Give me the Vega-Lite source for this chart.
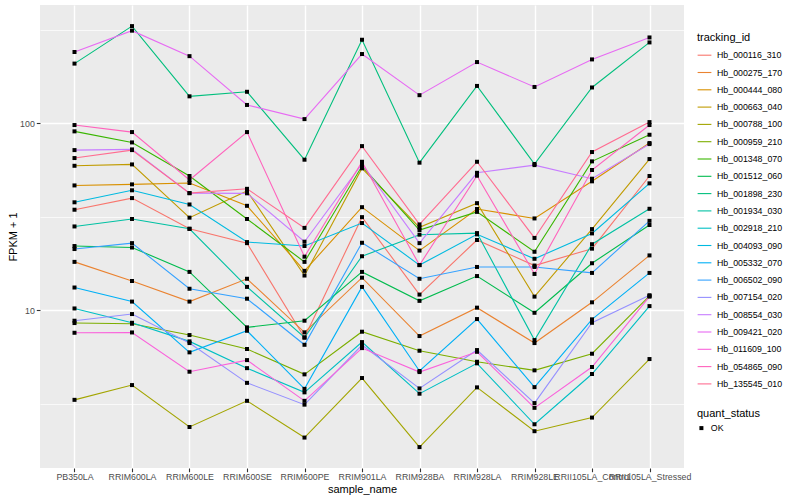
{
"$schema": "https://vega.github.io/schema/vega-lite/v6.json",
"width": 644, "height": 463,
"autosize": {"type": "none"},
"padding": {"left": 40, "top": 5, "right": 116, "bottom": 32},
"background": "white",
"config": {
 "view": {"fill": "#EBEBEB", "stroke": null},
 "font": "Liberation Sans",
 "axis": {"gridColor": "white", "gridWidth": 1.4, "domain": false, "tickColor": "#333333", "tickSize": 3.7, "tickWidth": 1.1, "labelColor": "#4D4D4D", "labelFontSize": 8.8, "titleFontSize": 11, "titleColor": "black", "titleFontWeight": "normal", "labelFont": "Liberation Sans", "titleFont": "Liberation Sans"},
 "legend": {"titleFontSize": 11, "titleFontWeight": "normal", "titleColor": "black", "labelFontSize": 8.8, "labelColor": "black", "labelFont": "Liberation Sans", "titleFont": "Liberation Sans", "padding": 0, "rowPadding": 4.3, "titlePadding": 4.7, "labelOffset": 5}
},
"data": {"values": [
{"tracking_id":"Hb_000116_310","sample_name":"PB350LA","FPKM":34.4,"quant_status":"OK"},
{"tracking_id":"Hb_000116_310","sample_name":"RRIM600LA","FPKM":39.7,"quant_status":"OK"},
{"tracking_id":"Hb_000116_310","sample_name":"RRIM600LE","FPKM":27.2,"quant_status":"OK"},
{"tracking_id":"Hb_000116_310","sample_name":"RRIM600SE","FPKM":22.8,"quant_status":"OK"},
{"tracking_id":"Hb_000116_310","sample_name":"RRIM600PE","FPKM":7.13,"quant_status":"OK"},
{"tracking_id":"Hb_000116_310","sample_name":"RRIM901LA","FPKM":31.4,"quant_status":"OK"},
{"tracking_id":"Hb_000116_310","sample_name":"RRIM928BA","FPKM":12.1,"quant_status":"OK"},
{"tracking_id":"Hb_000116_310","sample_name":"RRIM928LA","FPKM":23.7,"quant_status":"OK"},
{"tracking_id":"Hb_000116_310","sample_name":"RRIM928LE","FPKM":17.3,"quant_status":"OK"},
{"tracking_id":"Hb_000116_310","sample_name":"RRII105LA_Control","FPKM":21.3,"quant_status":"OK"},
{"tracking_id":"Hb_000116_310","sample_name":"RRII105LA_Stressed","FPKM":52.1,"quant_status":"OK"},
{"tracking_id":"Hb_000275_170","sample_name":"PB350LA","FPKM":18.1,"quant_status":"OK"},
{"tracking_id":"Hb_000275_170","sample_name":"RRIM600LA","FPKM":14.3,"quant_status":"OK"},
{"tracking_id":"Hb_000275_170","sample_name":"RRIM600LE","FPKM":11.1,"quant_status":"OK"},
{"tracking_id":"Hb_000275_170","sample_name":"RRIM600SE","FPKM":14.7,"quant_status":"OK"},
{"tracking_id":"Hb_000275_170","sample_name":"RRIM600PE","FPKM":7.6,"quant_status":"OK"},
{"tracking_id":"Hb_000275_170","sample_name":"RRIM901LA","FPKM":14.9,"quant_status":"OK"},
{"tracking_id":"Hb_000275_170","sample_name":"RRIM928BA","FPKM":7.26,"quant_status":"OK"},
{"tracking_id":"Hb_000275_170","sample_name":"RRIM928LA","FPKM":10.3,"quant_status":"OK"},
{"tracking_id":"Hb_000275_170","sample_name":"RRIM928LE","FPKM":6.66,"quant_status":"OK"},
{"tracking_id":"Hb_000275_170","sample_name":"RRII105LA_Control","FPKM":11.0,"quant_status":"OK"},
{"tracking_id":"Hb_000275_170","sample_name":"RRII105LA_Stressed","FPKM":19.6,"quant_status":"OK"},
{"tracking_id":"Hb_000444_080","sample_name":"PB350LA","FPKM":46.4,"quant_status":"OK"},
{"tracking_id":"Hb_000444_080","sample_name":"RRIM600LA","FPKM":47.0,"quant_status":"OK"},
{"tracking_id":"Hb_000444_080","sample_name":"RRIM600LE","FPKM":47.8,"quant_status":"OK"},
{"tracking_id":"Hb_000444_080","sample_name":"RRIM600SE","FPKM":36.1,"quant_status":"OK"},
{"tracking_id":"Hb_000444_080","sample_name":"RRIM600PE","FPKM":16.2,"quant_status":"OK"},
{"tracking_id":"Hb_000444_080","sample_name":"RRIM901LA","FPKM":35.5,"quant_status":"OK"},
{"tracking_id":"Hb_000444_080","sample_name":"RRIM928BA","FPKM":20.8,"quant_status":"OK"},
{"tracking_id":"Hb_000444_080","sample_name":"RRIM928LA","FPKM":34.7,"quant_status":"OK"},
{"tracking_id":"Hb_000444_080","sample_name":"RRIM928LE","FPKM":30.9,"quant_status":"OK"},
{"tracking_id":"Hb_000444_080","sample_name":"RRII105LA_Control","FPKM":48.8,"quant_status":"OK"},
{"tracking_id":"Hb_000444_080","sample_name":"RRII105LA_Stressed","FPKM":78.2,"quant_status":"OK"},
{"tracking_id":"Hb_000663_040","sample_name":"PB350LA","FPKM":59.1,"quant_status":"OK"},
{"tracking_id":"Hb_000663_040","sample_name":"RRIM600LA","FPKM":60.1,"quant_status":"OK"},
{"tracking_id":"Hb_000663_040","sample_name":"RRIM600LE","FPKM":31.2,"quant_status":"OK"},
{"tracking_id":"Hb_000663_040","sample_name":"RRIM600SE","FPKM":43.3,"quant_status":"OK"},
{"tracking_id":"Hb_000663_040","sample_name":"RRIM600PE","FPKM":15.3,"quant_status":"OK"},
{"tracking_id":"Hb_000663_040","sample_name":"RRIM901LA","FPKM":57.3,"quant_status":"OK"},
{"tracking_id":"Hb_000663_040","sample_name":"RRIM928BA","FPKM":27.7,"quant_status":"OK"},
{"tracking_id":"Hb_000663_040","sample_name":"RRIM928LA","FPKM":37.3,"quant_status":"OK"},
{"tracking_id":"Hb_000663_040","sample_name":"RRIM928LE","FPKM":11.8,"quant_status":"OK"},
{"tracking_id":"Hb_000663_040","sample_name":"RRII105LA_Control","FPKM":27.1,"quant_status":"OK"},
{"tracking_id":"Hb_000663_040","sample_name":"RRII105LA_Stressed","FPKM":64.2,"quant_status":"OK"},
{"tracking_id":"Hb_000788_100","sample_name":"PB350LA","FPKM":3.31,"quant_status":"OK"},
{"tracking_id":"Hb_000788_100","sample_name":"RRIM600LA","FPKM":3.97,"quant_status":"OK"},
{"tracking_id":"Hb_000788_100","sample_name":"RRIM600LE","FPKM":2.37,"quant_status":"OK"},
{"tracking_id":"Hb_000788_100","sample_name":"RRIM600SE","FPKM":3.27,"quant_status":"OK"},
{"tracking_id":"Hb_000788_100","sample_name":"RRIM600PE","FPKM":2.08,"quant_status":"OK"},
{"tracking_id":"Hb_000788_100","sample_name":"RRIM901LA","FPKM":4.33,"quant_status":"OK"},
{"tracking_id":"Hb_000788_100","sample_name":"RRIM928BA","FPKM":1.85,"quant_status":"OK"},
{"tracking_id":"Hb_000788_100","sample_name":"RRIM928LA","FPKM":3.86,"quant_status":"OK"},
{"tracking_id":"Hb_000788_100","sample_name":"RRIM928LE","FPKM":2.25,"quant_status":"OK"},
{"tracking_id":"Hb_000788_100","sample_name":"RRII105LA_Control","FPKM":2.66,"quant_status":"OK"},
{"tracking_id":"Hb_000788_100","sample_name":"RRII105LA_Stressed","FPKM":5.47,"quant_status":"OK"},
{"tracking_id":"Hb_000959_210","sample_name":"PB350LA","FPKM":8.52,"quant_status":"OK"},
{"tracking_id":"Hb_000959_210","sample_name":"RRIM600LA","FPKM":8.45,"quant_status":"OK"},
{"tracking_id":"Hb_000959_210","sample_name":"RRIM600LE","FPKM":7.35,"quant_status":"OK"},
{"tracking_id":"Hb_000959_210","sample_name":"RRIM600SE","FPKM":6.19,"quant_status":"OK"},
{"tracking_id":"Hb_000959_210","sample_name":"RRIM600PE","FPKM":4.53,"quant_status":"OK"},
{"tracking_id":"Hb_000959_210","sample_name":"RRIM901LA","FPKM":7.66,"quant_status":"OK"},
{"tracking_id":"Hb_000959_210","sample_name":"RRIM928BA","FPKM":6.06,"quant_status":"OK"},
{"tracking_id":"Hb_000959_210","sample_name":"RRIM928LA","FPKM":5.29,"quant_status":"OK"},
{"tracking_id":"Hb_000959_210","sample_name":"RRIM928LE","FPKM":4.76,"quant_status":"OK"},
{"tracking_id":"Hb_000959_210","sample_name":"RRII105LA_Control","FPKM":5.84,"quant_status":"OK"},
{"tracking_id":"Hb_000959_210","sample_name":"RRII105LA_Stressed","FPKM":11.9,"quant_status":"OK"},
{"tracking_id":"Hb_001348_070","sample_name":"PB350LA","FPKM":90.3,"quant_status":"OK"},
{"tracking_id":"Hb_001348_070","sample_name":"RRIM600LA","FPKM":78.8,"quant_status":"OK"},
{"tracking_id":"Hb_001348_070","sample_name":"RRIM600LE","FPKM":52.1,"quant_status":"OK"},
{"tracking_id":"Hb_001348_070","sample_name":"RRIM600SE","FPKM":30.7,"quant_status":"OK"},
{"tracking_id":"Hb_001348_070","sample_name":"RRIM600PE","FPKM":18.1,"quant_status":"OK"},
{"tracking_id":"Hb_001348_070","sample_name":"RRIM901LA","FPKM":58.9,"quant_status":"OK"},
{"tracking_id":"Hb_001348_070","sample_name":"RRIM928BA","FPKM":26.8,"quant_status":"OK"},
{"tracking_id":"Hb_001348_070","sample_name":"RRIM928LA","FPKM":33.5,"quant_status":"OK"},
{"tracking_id":"Hb_001348_070","sample_name":"RRIM928LE","FPKM":20.5,"quant_status":"OK"},
{"tracking_id":"Hb_001348_070","sample_name":"RRII105LA_Control","FPKM":62.4,"quant_status":"OK"},
{"tracking_id":"Hb_001348_070","sample_name":"RRII105LA_Stressed","FPKM":86.6,"quant_status":"OK"},
{"tracking_id":"Hb_001512_060","sample_name":"PB350LA","FPKM":22.0,"quant_status":"OK"},
{"tracking_id":"Hb_001512_060","sample_name":"RRIM600LA","FPKM":21.6,"quant_status":"OK"},
{"tracking_id":"Hb_001512_060","sample_name":"RRIM600LE","FPKM":16.0,"quant_status":"OK"},
{"tracking_id":"Hb_001512_060","sample_name":"RRIM600SE","FPKM":8.08,"quant_status":"OK"},
{"tracking_id":"Hb_001512_060","sample_name":"RRIM600PE","FPKM":8.77,"quant_status":"OK"},
{"tracking_id":"Hb_001512_060","sample_name":"RRIM901LA","FPKM":16.0,"quant_status":"OK"},
{"tracking_id":"Hb_001512_060","sample_name":"RRIM928BA","FPKM":11.2,"quant_status":"OK"},
{"tracking_id":"Hb_001512_060","sample_name":"RRIM928LA","FPKM":15.2,"quant_status":"OK"},
{"tracking_id":"Hb_001512_060","sample_name":"RRIM928LE","FPKM":9.67,"quant_status":"OK"},
{"tracking_id":"Hb_001512_060","sample_name":"RRII105LA_Control","FPKM":17.8,"quant_status":"OK"},
{"tracking_id":"Hb_001512_060","sample_name":"RRII105LA_Stressed","FPKM":28.5,"quant_status":"OK"},
{"tracking_id":"Hb_001898_230","sample_name":"PB350LA","FPKM":208,"quant_status":"OK"},
{"tracking_id":"Hb_001898_230","sample_name":"RRIM600LA","FPKM":330,"quant_status":"OK"},
{"tracking_id":"Hb_001898_230","sample_name":"RRIM600LE","FPKM":139,"quant_status":"OK"},
{"tracking_id":"Hb_001898_230","sample_name":"RRIM600SE","FPKM":147,"quant_status":"OK"},
{"tracking_id":"Hb_001898_230","sample_name":"RRIM600PE","FPKM":63.7,"quant_status":"OK"},
{"tracking_id":"Hb_001898_230","sample_name":"RRIM901LA","FPKM":279,"quant_status":"OK"},
{"tracking_id":"Hb_001898_230","sample_name":"RRIM928BA","FPKM":61.4,"quant_status":"OK"},
{"tracking_id":"Hb_001898_230","sample_name":"RRIM928LA","FPKM":158,"quant_status":"OK"},
{"tracking_id":"Hb_001898_230","sample_name":"RRIM928LE","FPKM":60.4,"quant_status":"OK"},
{"tracking_id":"Hb_001898_230","sample_name":"RRII105LA_Control","FPKM":155,"quant_status":"OK"},
{"tracking_id":"Hb_001898_230","sample_name":"RRII105LA_Stressed","FPKM":270,"quant_status":"OK"},
{"tracking_id":"Hb_001934_030","sample_name":"PB350LA","FPKM":28.0,"quant_status":"OK"},
{"tracking_id":"Hb_001934_030","sample_name":"RRIM600LA","FPKM":30.7,"quant_status":"OK"},
{"tracking_id":"Hb_001934_030","sample_name":"RRIM600LE","FPKM":27.2,"quant_status":"OK"},
{"tracking_id":"Hb_001934_030","sample_name":"RRIM600SE","FPKM":13.3,"quant_status":"OK"},
{"tracking_id":"Hb_001934_030","sample_name":"RRIM600PE","FPKM":7.13,"quant_status":"OK"},
{"tracking_id":"Hb_001934_030","sample_name":"RRIM901LA","FPKM":19.4,"quant_status":"OK"},
{"tracking_id":"Hb_001934_030","sample_name":"RRIM928BA","FPKM":25.3,"quant_status":"OK"},
{"tracking_id":"Hb_001934_030","sample_name":"RRIM928LA","FPKM":25.8,"quant_status":"OK"},
{"tracking_id":"Hb_001934_030","sample_name":"RRIM928LE","FPKM":6.91,"quant_status":"OK"},
{"tracking_id":"Hb_001934_030","sample_name":"RRII105LA_Control","FPKM":22.5,"quant_status":"OK"},
{"tracking_id":"Hb_001934_030","sample_name":"RRII105LA_Stressed","FPKM":34.8,"quant_status":"OK"},
{"tracking_id":"Hb_002918_210","sample_name":"PB350LA","FPKM":10.2,"quant_status":"OK"},
{"tracking_id":"Hb_002918_210","sample_name":"RRIM600LA","FPKM":8.55,"quant_status":"OK"},
{"tracking_id":"Hb_002918_210","sample_name":"RRIM600LE","FPKM":6.8,"quant_status":"OK"},
{"tracking_id":"Hb_002918_210","sample_name":"RRIM600SE","FPKM":4.89,"quant_status":"OK"},
{"tracking_id":"Hb_002918_210","sample_name":"RRIM600PE","FPKM":3.63,"quant_status":"OK"},
{"tracking_id":"Hb_002918_210","sample_name":"RRIM901LA","FPKM":6.74,"quant_status":"OK"},
{"tracking_id":"Hb_002918_210","sample_name":"RRIM928BA","FPKM":3.57,"quant_status":"OK"},
{"tracking_id":"Hb_002918_210","sample_name":"RRIM928LA","FPKM":5.19,"quant_status":"OK"},
{"tracking_id":"Hb_002918_210","sample_name":"RRIM928LE","FPKM":2.45,"quant_status":"OK"},
{"tracking_id":"Hb_002918_210","sample_name":"RRII105LA_Control","FPKM":4.55,"quant_status":"OK"},
{"tracking_id":"Hb_002918_210","sample_name":"RRII105LA_Stressed","FPKM":10.5,"quant_status":"OK"},
{"tracking_id":"Hb_004093_090","sample_name":"PB350LA","FPKM":37.7,"quant_status":"OK"},
{"tracking_id":"Hb_004093_090","sample_name":"RRIM600LA","FPKM":43.7,"quant_status":"OK"},
{"tracking_id":"Hb_004093_090","sample_name":"RRIM600LE","FPKM":36.7,"quant_status":"OK"},
{"tracking_id":"Hb_004093_090","sample_name":"RRIM600SE","FPKM":23.1,"quant_status":"OK"},
{"tracking_id":"Hb_004093_090","sample_name":"RRIM600PE","FPKM":22.0,"quant_status":"OK"},
{"tracking_id":"Hb_004093_090","sample_name":"RRIM901LA","FPKM":29.2,"quant_status":"OK"},
{"tracking_id":"Hb_004093_090","sample_name":"RRIM928BA","FPKM":17.4,"quant_status":"OK"},
{"tracking_id":"Hb_004093_090","sample_name":"RRIM928LA","FPKM":25.4,"quant_status":"OK"},
{"tracking_id":"Hb_004093_090","sample_name":"RRIM928LE","FPKM":18.8,"quant_status":"OK"},
{"tracking_id":"Hb_004093_090","sample_name":"RRII105LA_Control","FPKM":25.7,"quant_status":"OK"},
{"tracking_id":"Hb_004093_090","sample_name":"RRII105LA_Stressed","FPKM":47.6,"quant_status":"OK"},
{"tracking_id":"Hb_005332_070","sample_name":"PB350LA","FPKM":13.2,"quant_status":"OK"},
{"tracking_id":"Hb_005332_070","sample_name":"RRIM600LA","FPKM":11.1,"quant_status":"OK"},
{"tracking_id":"Hb_005332_070","sample_name":"RRIM600LE","FPKM":5.94,"quant_status":"OK"},
{"tracking_id":"Hb_005332_070","sample_name":"RRIM600SE","FPKM":7.75,"quant_status":"OK"},
{"tracking_id":"Hb_005332_070","sample_name":"RRIM600PE","FPKM":3.79,"quant_status":"OK"},
{"tracking_id":"Hb_005332_070","sample_name":"RRIM901LA","FPKM":13.3,"quant_status":"OK"},
{"tracking_id":"Hb_005332_070","sample_name":"RRIM928BA","FPKM":4.72,"quant_status":"OK"},
{"tracking_id":"Hb_005332_070","sample_name":"RRIM928LA","FPKM":8.95,"quant_status":"OK"},
{"tracking_id":"Hb_005332_070","sample_name":"RRIM928LE","FPKM":3.87,"quant_status":"OK"},
{"tracking_id":"Hb_005332_070","sample_name":"RRII105LA_Control","FPKM":8.92,"quant_status":"OK"},
{"tracking_id":"Hb_005332_070","sample_name":"RRII105LA_Stressed","FPKM":15.8,"quant_status":"OK"},
{"tracking_id":"Hb_006502_090","sample_name":"PB350LA","FPKM":21.2,"quant_status":"OK"},
{"tracking_id":"Hb_006502_090","sample_name":"RRIM600LA","FPKM":22.8,"quant_status":"OK"},
{"tracking_id":"Hb_006502_090","sample_name":"RRIM600LE","FPKM":13.0,"quant_status":"OK"},
{"tracking_id":"Hb_006502_090","sample_name":"RRIM600SE","FPKM":11.5,"quant_status":"OK"},
{"tracking_id":"Hb_006502_090","sample_name":"RRIM600PE","FPKM":6.52,"quant_status":"OK"},
{"tracking_id":"Hb_006502_090","sample_name":"RRIM901LA","FPKM":22.9,"quant_status":"OK"},
{"tracking_id":"Hb_006502_090","sample_name":"RRIM928BA","FPKM":14.7,"quant_status":"OK"},
{"tracking_id":"Hb_006502_090","sample_name":"RRIM928LA","FPKM":17.0,"quant_status":"OK"},
{"tracking_id":"Hb_006502_090","sample_name":"RRIM928LE","FPKM":17.0,"quant_status":"OK"},
{"tracking_id":"Hb_006502_090","sample_name":"RRII105LA_Control","FPKM":15.8,"quant_status":"OK"},
{"tracking_id":"Hb_006502_090","sample_name":"RRII105LA_Stressed","FPKM":30.0,"quant_status":"OK"},
{"tracking_id":"Hb_007154_020","sample_name":"PB350LA","FPKM":8.77,"quant_status":"OK"},
{"tracking_id":"Hb_007154_020","sample_name":"RRIM600LA","FPKM":9.52,"quant_status":"OK"},
{"tracking_id":"Hb_007154_020","sample_name":"RRIM600LE","FPKM":6.66,"quant_status":"OK"},
{"tracking_id":"Hb_007154_020","sample_name":"RRIM600SE","FPKM":4.08,"quant_status":"OK"},
{"tracking_id":"Hb_007154_020","sample_name":"RRIM600PE","FPKM":3.12,"quant_status":"OK"},
{"tracking_id":"Hb_007154_020","sample_name":"RRIM901LA","FPKM":6.5,"quant_status":"OK"},
{"tracking_id":"Hb_007154_020","sample_name":"RRIM928BA","FPKM":3.81,"quant_status":"OK"},
{"tracking_id":"Hb_007154_020","sample_name":"RRIM928LA","FPKM":6.11,"quant_status":"OK"},
{"tracking_id":"Hb_007154_020","sample_name":"RRIM928LE","FPKM":3.18,"quant_status":"OK"},
{"tracking_id":"Hb_007154_020","sample_name":"RRII105LA_Control","FPKM":8.55,"quant_status":"OK"},
{"tracking_id":"Hb_007154_020","sample_name":"RRII105LA_Stressed","FPKM":12.0,"quant_status":"OK"},
{"tracking_id":"Hb_008554_030","sample_name":"PB350LA","FPKM":71.7,"quant_status":"OK"},
{"tracking_id":"Hb_008554_030","sample_name":"RRIM600LA","FPKM":72.3,"quant_status":"OK"},
{"tracking_id":"Hb_008554_030","sample_name":"RRIM600LE","FPKM":42.2,"quant_status":"OK"},
{"tracking_id":"Hb_008554_030","sample_name":"RRIM600SE","FPKM":42.1,"quant_status":"OK"},
{"tracking_id":"Hb_008554_030","sample_name":"RRIM600PE","FPKM":23.2,"quant_status":"OK"},
{"tracking_id":"Hb_008554_030","sample_name":"RRIM901LA","FPKM":60.4,"quant_status":"OK"},
{"tracking_id":"Hb_008554_030","sample_name":"RRIM928BA","FPKM":22.8,"quant_status":"OK"},
{"tracking_id":"Hb_008554_030","sample_name":"RRIM928LA","FPKM":54.2,"quant_status":"OK"},
{"tracking_id":"Hb_008554_030","sample_name":"RRIM928LE","FPKM":59.6,"quant_status":"OK"},
{"tracking_id":"Hb_008554_030","sample_name":"RRII105LA_Control","FPKM":50.4,"quant_status":"OK"},
{"tracking_id":"Hb_008554_030","sample_name":"RRII105LA_Stressed","FPKM":77.2,"quant_status":"OK"},
{"tracking_id":"Hb_009421_020","sample_name":"PB350LA","FPKM":240,"quant_status":"OK"},
{"tracking_id":"Hb_009421_020","sample_name":"RRIM600LA","FPKM":312,"quant_status":"OK"},
{"tracking_id":"Hb_009421_020","sample_name":"RRIM600LE","FPKM":228,"quant_status":"OK"},
{"tracking_id":"Hb_009421_020","sample_name":"RRIM600SE","FPKM":125,"quant_status":"OK"},
{"tracking_id":"Hb_009421_020","sample_name":"RRIM600PE","FPKM":105,"quant_status":"OK"},
{"tracking_id":"Hb_009421_020","sample_name":"RRIM901LA","FPKM":234,"quant_status":"OK"},
{"tracking_id":"Hb_009421_020","sample_name":"RRIM928BA","FPKM":141,"quant_status":"OK"},
{"tracking_id":"Hb_009421_020","sample_name":"RRIM928LA","FPKM":212,"quant_status":"OK"},
{"tracking_id":"Hb_009421_020","sample_name":"RRIM928LE","FPKM":156,"quant_status":"OK"},
{"tracking_id":"Hb_009421_020","sample_name":"RRII105LA_Control","FPKM":219,"quant_status":"OK"},
{"tracking_id":"Hb_009421_020","sample_name":"RRII105LA_Stressed","FPKM":287,"quant_status":"OK"},
{"tracking_id":"Hb_011609_100","sample_name":"PB350LA","FPKM":7.56,"quant_status":"OK"},
{"tracking_id":"Hb_011609_100","sample_name":"RRIM600LA","FPKM":7.59,"quant_status":"OK"},
{"tracking_id":"Hb_011609_100","sample_name":"RRIM600LE","FPKM":4.68,"quant_status":"OK"},
{"tracking_id":"Hb_011609_100","sample_name":"RRIM600SE","FPKM":5.4,"quant_status":"OK"},
{"tracking_id":"Hb_011609_100","sample_name":"RRIM600PE","FPKM":3.27,"quant_status":"OK"},
{"tracking_id":"Hb_011609_100","sample_name":"RRIM901LA","FPKM":6.26,"quant_status":"OK"},
{"tracking_id":"Hb_011609_100","sample_name":"RRIM928BA","FPKM":4.66,"quant_status":"OK"},
{"tracking_id":"Hb_011609_100","sample_name":"RRIM928LA","FPKM":5.98,"quant_status":"OK"},
{"tracking_id":"Hb_011609_100","sample_name":"RRIM928LE","FPKM":3.0,"quant_status":"OK"},
{"tracking_id":"Hb_011609_100","sample_name":"RRII105LA_Control","FPKM":4.96,"quant_status":"OK"},
{"tracking_id":"Hb_011609_100","sample_name":"RRII105LA_Stressed","FPKM":11.8,"quant_status":"OK"},
{"tracking_id":"Hb_054865_090","sample_name":"PB350LA","FPKM":97.6,"quant_status":"OK"},
{"tracking_id":"Hb_054865_090","sample_name":"RRIM600LA","FPKM":89.5,"quant_status":"OK"},
{"tracking_id":"Hb_054865_090","sample_name":"RRIM600LE","FPKM":49.6,"quant_status":"OK"},
{"tracking_id":"Hb_054865_090","sample_name":"RRIM600SE","FPKM":89.5,"quant_status":"OK"},
{"tracking_id":"Hb_054865_090","sample_name":"RRIM600PE","FPKM":19.3,"quant_status":"OK"},
{"tracking_id":"Hb_054865_090","sample_name":"RRIM901LA","FPKM":62.1,"quant_status":"OK"},
{"tracking_id":"Hb_054865_090","sample_name":"RRIM928BA","FPKM":17.4,"quant_status":"OK"},
{"tracking_id":"Hb_054865_090","sample_name":"RRIM928LA","FPKM":52.3,"quant_status":"OK"},
{"tracking_id":"Hb_054865_090","sample_name":"RRIM928LE","FPKM":15.6,"quant_status":"OK"},
{"tracking_id":"Hb_054865_090","sample_name":"RRII105LA_Control","FPKM":56.1,"quant_status":"OK"},
{"tracking_id":"Hb_054865_090","sample_name":"RRII105LA_Stressed","FPKM":97.6,"quant_status":"OK"},
{"tracking_id":"Hb_135545_010","sample_name":"PB350LA","FPKM":65.0,"quant_status":"OK"},
{"tracking_id":"Hb_135545_010","sample_name":"RRIM600LA","FPKM":71.7,"quant_status":"OK"},
{"tracking_id":"Hb_135545_010","sample_name":"RRIM600LE","FPKM":42.2,"quant_status":"OK"},
{"tracking_id":"Hb_135545_010","sample_name":"RRIM600SE","FPKM":44.5,"quant_status":"OK"},
{"tracking_id":"Hb_135545_010","sample_name":"RRIM600PE","FPKM":27.5,"quant_status":"OK"},
{"tracking_id":"Hb_135545_010","sample_name":"RRIM901LA","FPKM":75.3,"quant_status":"OK"},
{"tracking_id":"Hb_135545_010","sample_name":"RRIM928BA","FPKM":28.7,"quant_status":"OK"},
{"tracking_id":"Hb_135545_010","sample_name":"RRIM928LA","FPKM":62.1,"quant_status":"OK"},
{"tracking_id":"Hb_135545_010","sample_name":"RRIM928LE","FPKM":24.3,"quant_status":"OK"},
{"tracking_id":"Hb_135545_010","sample_name":"RRII105LA_Control","FPKM":70.0,"quant_status":"OK"},
{"tracking_id":"Hb_135545_010","sample_name":"RRII105LA_Stressed","FPKM":101.2,"quant_status":"OK"}
]},
"encoding": {
 "x": {"field": "sample_name", "type": "nominal",
  "sort": ["PB350LA","RRIM600LA","RRIM600LE","RRIM600SE","RRIM600PE","RRIM901LA","RRIM928BA","RRIM928LA","RRIM928LE","RRII105LA_Control","RRII105LA_Stressed"],
  "scale": {"type": "point", "padding": 0.6},
  "axis": {"title": "sample_name", "labelAngle": 0, "labelOverlap": false, "labelBound": false, "labelFlush": false, "labelPadding": 1, "titlePadding": 2, "grid": true}}
},
"layer": [
 {"mark": {"type": "line", "strokeWidth": 1.1},
  "encoding": {
   "y": {"field": "FPKM", "type": "quantitative", "scale": {"type": "log", "domain": [1.43, 428], "nice": false, "zero": false},
    "axis": {"title": "FPKM + 1", "values": [10, 100], "format": "d", "grid": true, "labelPadding": 2, "titlePadding": 1, "minExtent": 0}},
   "color": {"field": "tracking_id", "type": "nominal",
    "scale": {"range": ["#F8766D","#EA8331","#D89000","#C09B00","#A3A500","#7CAE00","#39B600","#00BB4E","#00BF7D","#00C1A3","#00BFC4","#00BAE0","#00B0F6","#35A2FF","#9590FF","#C77CFF","#E76BF3","#FA62DB","#FF62BC","#FF6C91"]},
    "legend": {"title": "tracking_id", "symbolType": "stroke", "symbolSize": 190, "symbolStrokeWidth": 1.1, "orient": "none", "legendX": 657, "legendY": 27}}
  }},
 {"mark": {"type": "point", "filled": true, "color": "black", "size": 16, "opacity": 1},
  "encoding": {
   "y": {"field": "FPKM", "type": "quantitative", "scale": {"type": "log", "domain": [1.43, 428], "nice": false, "zero": false},
    "axis": {"orient": "right", "values": [3.162, 31.62, 316.2], "grid": true, "gridWidth": 0.7, "labels": false, "ticks": false, "domain": false, "title": null, "minExtent": 0, "maxExtent": 0}},
   "shape": {"field": "quant_status", "type": "nominal", "scale": {"range": ["square"]},
    "legend": {"title": "quant_status", "symbolSize": 16, "symbolFillColor": "black", "symbolStrokeColor": "black", "orient": "none", "legendX": 657, "legendY": 403}}
  }}
],
"resolve": {"scale": {"y": "shared"}, "axis": {"y": "independent"}}
}
